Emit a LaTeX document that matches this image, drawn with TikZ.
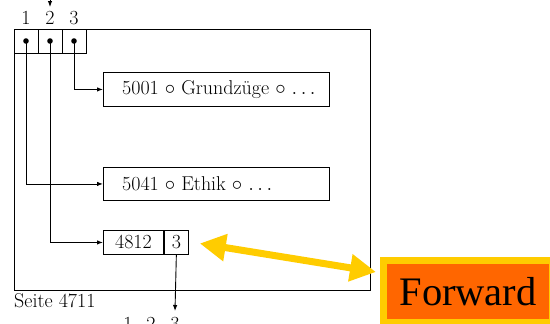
\documentclass[tikz,border=0pt]{standalone}
\usepackage{fontspec}
\newfontfamily\fwdfont{Liberation Serif}
\usetikzlibrary{arrows.meta}
\definecolor{fwdyellow}{HTML}{FFCC00}
\definecolor{fwdorange}{HTML}{FF6600}
\begin{document}
\begin{tikzpicture}[x=1pt,y=-1pt,
  every node/.style={font=\fontsize{20}{23}\selectfont},
  thin line/.style={line width=0.9pt},
  rec/.style={draw, thin line, inner sep=0pt},
  cell/.style={rec, minimum width=24pt, minimum height=24pt},
  ptr/.style={thin line, -{Latex[length=6pt,width=4.5pt]}},
  lbl/.style={inner sep=0pt},
  fwdbox/.style={draw=fwdyellow, line width=7pt, outer sep=0pt, fill=fwdorange, inner xsep=16pt, minimum height=62pt, font=\fwdfont\fontsize{40.5}{44}\selectfont},
  fwdarrow/.style={draw=fwdyellow, line width=7pt, {Triangle[length=26pt,width=26pt]}-{Triangle[length=26pt,width=26pt]}}
]
\useasboundingbox (0,0) rectangle (550,324);
% page
\node[rec, anchor=north west, minimum width=356pt, minimum height=261pt] (page) at (14,29) {};
\node[lbl, anchor=base west] (seite) at (14,307) {Seite 4711};
% slot cells
\node[cell, fill=white] (c1) at (26,41) {};
\node[cell, fill=white] (c2) at (50,41) {};
\node[cell, fill=white] (c3) at (74,41) {};
\foreach \c in {c1,c2,c3} \fill (\c.center) circle (2.8pt);
\node[lbl] (t1) at (26,18) {1};
\node[lbl] (t2) at (50,18) {2};
\node[lbl] (t3) at (74,18) {3};
\coordinate (topin) at (50,-3);
\draw[ptr] (topin) -- (50,7);
% records
\node[rec, anchor=north west, minimum width=226pt, minimum height=34pt] (b1) at (103,72) {};
\node[lbl, anchor=west] (b1t) at ([xshift=19pt]b1.west) {5001 $\circ$ Grundzüge $\circ$ $\ldots$};
\node[rec, anchor=north west, minimum width=226pt, minimum height=33pt] (b2) at (103,167) {};
\node[lbl, anchor=west] (b2t) at ([xshift=19pt]b2.west) {5041 $\circ$ Ethik $\circ$ $\ldots$};
\node[rec, anchor=north west, minimum width=60pt, minimum height=24pt] (b3a) at (103,230) {4812};
\node[rec, anchor=north west, minimum width=24pt, minimum height=24pt] (b3b) at (b3a.north east) {3};
% pointers
\draw[ptr] (c3.center) |- (b1.west);
\draw[ptr] (c1.center) |- (b2.west);
\draw[ptr] (c2.center) |- (b3a.west);
% forward to other page
\node[lbl] (u1) at (128,324) {1};
\node[lbl] (u2) at (151,324) {2};
\node[lbl] (u3) at (175,324) {3};
\coordinate (down) at (175,311);
\draw[ptr] (b3b.south) -- (down);
% Forward box
\node[fwdbox, anchor=west] (fwd) at (383.5,291.5) {Forward};
\coordinate (ya) at ([xshift=11pt,yshift=-1pt]b3b.east);
\coordinate (yb) at ([xshift=-7.5pt,yshift=19.5pt]fwd.west);
\draw[fwdarrow] (ya) -- (yb);
\end{tikzpicture}
\end{document}
